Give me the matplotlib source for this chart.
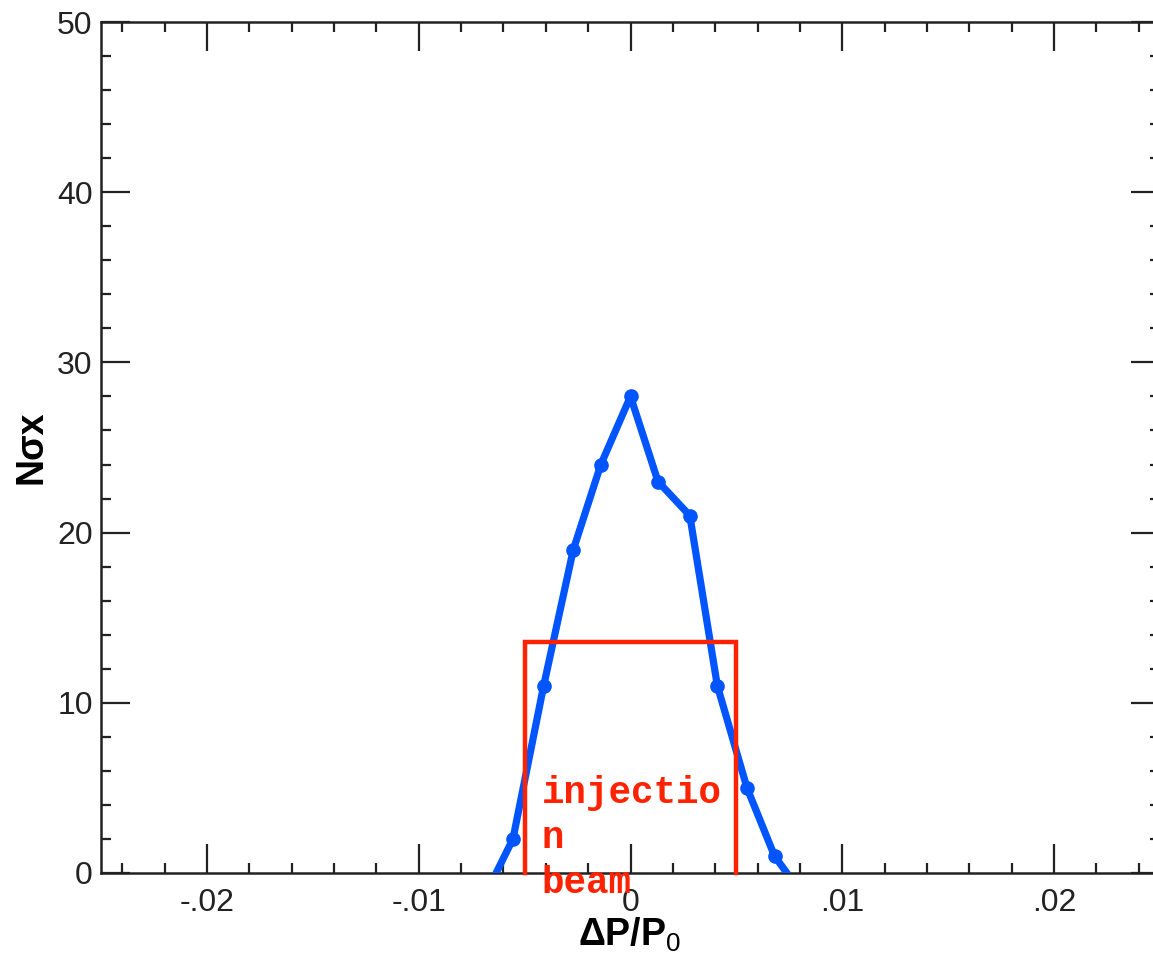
import matplotlib
matplotlib.use("Agg")
import matplotlib.pyplot as plt
from matplotlib.ticker import MultipleLocator

# Momentum deviation scan: dynamic aperture in units of sigma_x
dp = [-0.0069, -0.00555, -0.0041, -0.0027, -0.0014, 0.0, 0.0013, 0.0028, 0.0041, 0.0055, 0.0068, 0.0082]
nsigma = [-1.4, 2.0, 11.0, 19.0, 24.0, 28.0, 23.0, 21.0, 11.0, 5.0, 1.0, -1.4]

# Injection beam acceptance box
beam_x = [-0.005, -0.005, 0.005, 0.005]
beam_y = [0.0, 13.6, 13.6, 0.0]
beam_label = "injectio\nn\nbeam"

x_ticks = [-0.02, -0.01, 0.0, 0.01, 0.02]
x_ticklabels = ["-.02", "-.01", "0", ".01", ".02"]
y_ticks = [0, 10, 20, 30, 40, 50]

plt.rcParams["mathtext.fontset"] = "custom"
plt.rcParams["mathtext.rm"] = "Liberation Sans"
plt.rcParams["mathtext.bf"] = "Liberation Sans:bold"
plt.rcParams["mathtext.it"] = "Liberation Sans:italic"

W, H = 1153, 961
fig = plt.figure(figsize=(W / 100, H / 100), dpi=100)
ax = fig.add_axes([101 / W, 1 - 873 / H, (1160 - 101) / W, (873 - 22) / H])

ax.plot(dp, nsigma, color="#0055ff", lw=5.2, marker="o", ms=9.5, solid_joinstyle="round", zorder=3)
ax.plot(beam_x, beam_y, color="#ff2200", lw=3.2, solid_joinstyle="miter", zorder=4, clip_on=False)
ax.text(-0.0042, 5.75, beam_label, color="#ff2200", family="Liberation Mono", fontweight="bold",
        fontsize=27, va="top", ha="left", linespacing=1.32, zorder=5)

ax.set_xlim(-0.025, 0.025)
ax.set_ylim(0, 50)

ax.set_xticks(x_ticks)
ax.set_xticklabels(x_ticklabels)
ax.xaxis.set_minor_locator(MultipleLocator(0.002))
ax.set_yticks(y_ticks)
ax.yaxis.set_minor_locator(MultipleLocator(2))

ax.tick_params(which="both", direction="in", top=True, right=True, color="#222222", width=1.6)
ax.tick_params(which="major", length=21)
ax.tick_params(which="minor", length=7.5)
ax.tick_params(axis="x", which="major", pad=11, labelsize=23, labelcolor="#222222")
ax.tick_params(axis="y", which="major", pad=6, labelsize=23, labelcolor="#222222")
for lab in ax.get_xticklabels() + ax.get_yticklabels():
    lab.set_family("Liberation Sans")

for sp in ax.spines.values():
    sp.set_color("#222222")
    sp.set_linewidth(1.8)

ax.set_xlabel(r"$\mathbf{\Delta P/P}_{\mathrm{0}}$", fontsize=27, color="black")
ax.xaxis.set_label_coords(0.5 - 1.0 / 1059, -0.05)
ax.set_ylabel("Nσx", fontsize=27, fontweight="bold", family="Liberation Sans", color="black")
ax.yaxis.set_label_coords(-0.049, 0.5)

fig.savefig("out.png", dpi=100)
